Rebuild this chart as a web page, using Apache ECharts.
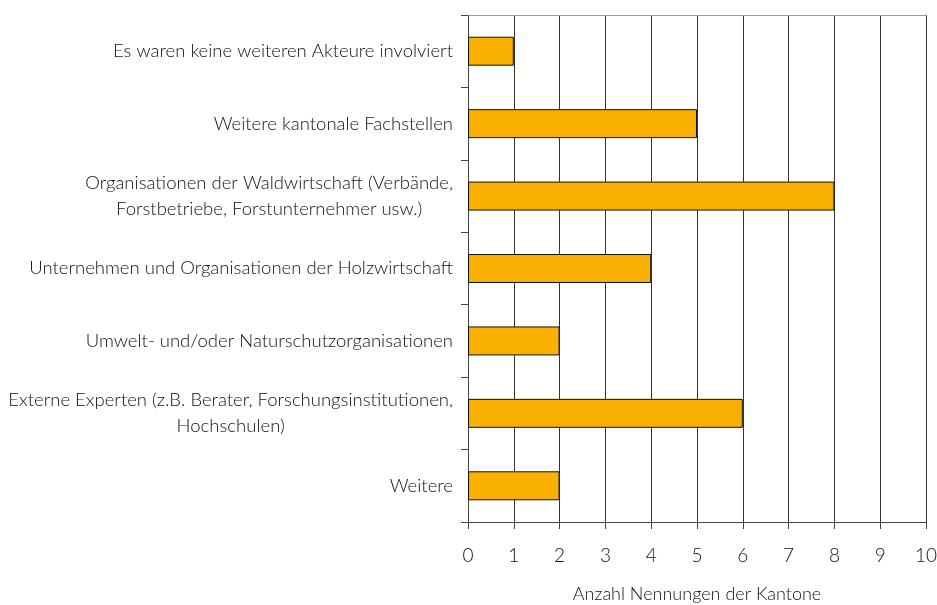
<!DOCTYPE html>
<html>
<head>
<meta charset="utf-8">
<script src="https://cdn.jsdelivr.net/npm/echarts@6/dist/echarts.min.js"></script>
<style>
  html, body { margin: 0; padding: 0; background: #fff; }
  #chart { width: 937px; height: 605px; }
</style>
</head>
<body>
<div id="chart"></div>
<script>
// Akteure, von oben nach unten
var categories = [
  'Es waren keine weiteren Akteure involviert',
  'Weitere kantonale Fachstellen',
  'Organisationen der Waldwirtschaft (Verbände,\nForstbetriebe, Forstunternehmer usw.)',
  'Unternehmen und Organisationen der Holzwirtschaft',
  'Umwelt- und/oder Naturschutzorganisationen',
  'Externe Experten (z.B. Berater, Forschungsinstitutionen,\nHochschulen)',
  'Weitere'
];
var nennungen = [1, 5, 8, 4, 2, 6, 2];
var xTicks = [0, 1, 2, 3, 4, 5, 6, 7, 8, 9, 10];

var font = 'Lato, "Open Sans", sans-serif';
var chart = echarts.init(document.getElementById('chart'));

chart.setOption({
  animation: false,
  grid: { left: 468, right: 11, top: 15, bottom: 83, outerBoundsMode: 'none', containLabel: false },
  xAxis: [{
    type: 'value',
    min: xTicks[0],
    max: xTicks[xTicks.length - 1],
    interval: 1,
    name: 'Anzahl Nennungen der Kantone',
    nameLocation: 'middle',
    nameGap: 63,
    nameTextStyle: { fontFamily: font, fontWeight: 300, fontSize: 18, color: '#111' },
    axisLine: { show: true, lineStyle: { color: '#444', width: 1 } },
    axisTick: { show: true, length: 7, lineStyle: { color: '#444' } },
    axisLabel: { margin: 24, fontFamily: font, fontWeight: 300, fontSize: 19, color: '#111' },
    splitLine: { show: true, lineStyle: { color: '#333', width: 1 } }
  }, {
    type: 'value',
    position: 'top',
    min: 0,
    max: 10,
    axisLine: { show: true, lineStyle: { color: '#999', width: 1 } },
    axisTick: { show: false },
    axisLabel: { show: false },
    splitLine: { show: false }
  }],
  yAxis: {
    type: 'category',
    inverse: true,
    data: categories,
    axisLine: { show: true, lineStyle: { color: '#444', width: 1 } },
    axisTick: { show: true, length: 7, lineStyle: { color: '#444' } },
    axisLabel: {
      margin: 15,
      fontFamily: font,
      fontWeight: 300,
      fontSize: 18.5,
      color: '#111',
      lineHeight: 26,
      formatter: function (v) {
        return v.split('\n').map(function (s) { return '{c|' + s + '}'; }).join('\n');
      },
      rich: {
        c: { align: 'center', fontFamily: font, fontWeight: 300, fontSize: 18.5, color: '#111', lineHeight: 26 }
      }
    }
  },
  series: [{
    type: 'bar',
    data: nennungen,
    barWidth: '40%',
    itemStyle: { color: '#F9B000', borderColor: '#111', borderWidth: 1 }
  }]
});
</script>
</body>
</html>
